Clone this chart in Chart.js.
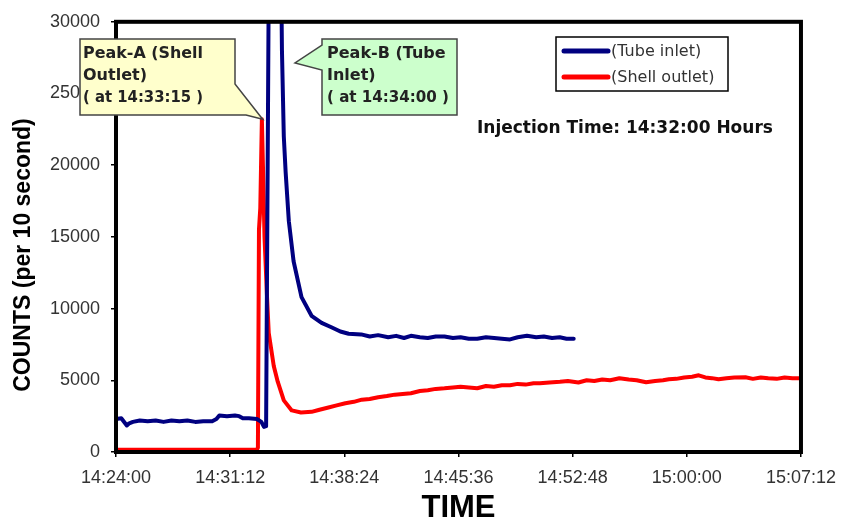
<!DOCTYPE html>
<html lang="en">
<head>
<meta charset="UTF-8">
<title>Tracer counts</title>
<script src="https://cdn.jsdelivr.net/npm/chart.js@4.4.0/dist/chart.umd.min.js"></script>
<style>
  html, body { margin: 0; padding: 0; background: #fff; }
  #wrap { width: 846px; height: 519px; }
</style>
</head>
<body>
<div id="wrap"><canvas id="tracerChart"></canvas></div>
<script>
// time axis is in seconds after 14:24:00
const xTickLabels = ['14:24:00', '14:31:12', '14:38:24', '14:45:36', '14:52:48', '15:00:00', '15:07:12'];
const yTickValues = [0, 5000, 10000, 15000, 20000, 25000, 30000];

// Tube inlet (blue)
const tubeTimes = [0, 20, 41, 50, 64, 90, 120, 150, 180, 210, 240, 270, 300, 330, 364, 380, 391, 420, 450, 466,
  480, 503, 533, 550, 560, 568, 582, 590, 600, 610, 620, 628, 635, 642, 654, 672, 702, 740, 778, 815,
  849, 880, 928, 960, 992, 1030, 1060, 1090, 1116, 1150, 1180, 1210, 1243, 1275, 1304, 1335, 1367, 1400, 1431, 1460,
  1491, 1520, 1555, 1590, 1619, 1650, 1679, 1705, 1732];
const tubeCounts = [2300, 2350, 1850, 2000, 2100, 2200, 2150, 2200, 2100, 2200, 2150, 2200, 2100, 2150, 2150, 2300, 2550, 2500, 2550, 2500,
  2350, 2350, 2300, 2100, 1750, 1800, 45000, 60000, 65000, 58000, 42000, 28000, 22000, 19500, 16100, 13300, 10800, 9500, 9000, 8700,
  8400, 8250, 8200, 8050, 8150, 8000, 8100, 7950, 8100, 8000, 7950, 8050, 8050, 7950, 8000, 7900, 7900, 8000, 7950, 7900,
  7850, 8000, 8100, 8000, 8050, 7950, 8000, 7900, 7900];

// Shell outlet (red)
const shellTimes = [0, 533, 537, 541, 546, 552, 556, 562, 571, 578, 597, 612, 635, 665, 700, 740, 770, 804, 835, 868,
  900, 930, 960, 992, 1025, 1055, 1085, 1116, 1150, 1180, 1210, 1243, 1275, 1304, 1335, 1367, 1400, 1430, 1460, 1491,
  1520, 1550, 1580, 1604, 1640, 1680, 1710, 1750, 1781, 1810, 1840, 1870, 1905, 1940, 1970, 2006, 2040, 2070, 2092, 2120,
  2150, 2180, 2205, 2230, 2255, 2280, 2310, 2340, 2382, 2410, 2440, 2468, 2500, 2530, 2560, 2592];
const shellCounts = [150, 150, 300, 15500, 17000, 23200, 20000, 15000, 11000, 8300, 6000, 4900, 3600, 2900, 2750, 2800, 2950, 3100, 3250, 3400,
  3500, 3650, 3700, 3820, 3900, 4000, 4050, 4100, 4250, 4300, 4400, 4440, 4500, 4550, 4500, 4450, 4600, 4550, 4650, 4650,
  4750, 4700, 4800, 4790, 4850, 4900, 4950, 4850, 5000, 4950, 5050, 5000, 5140, 5050, 5000, 4860, 4950, 5000, 5070, 5100,
  5200, 5250, 5350, 5200, 5150, 5070, 5150, 5200, 5210, 5100, 5200, 5140, 5100, 5200, 5150, 5140];

const peakA = { time: 555, counts: 23200, lines: ['Peak-A (Shell', 'Outlet)', '( at 14:33:15 )'] };
const peakB = { lines: ['Peak-B (Tube', 'Inlet)', '( at 14:34:00 )'] };

const toPoints = (xs, ys) => xs.map((x, i) => ({ x: x, y: ys[i] }));

// frame, titles, legend and the two callouts
const decor = {
  id: 'decor',
  afterDraw(chart) {
    const { ctx, chartArea: a, scales } = chart;
    ctx.save();

    ctx.strokeStyle = '#000';
    ctx.lineWidth = 4;
    ctx.strokeRect(a.left, a.top, a.right - a.left, a.bottom - a.top);

    // axis titles
    ctx.fillStyle = '#000';
    ctx.font = 'bold 31px "Liberation Sans", Arial, sans-serif';
    ctx.textAlign = 'center';
    ctx.textBaseline = 'middle';
    ctx.fillText('TIME', (a.left + a.right) / 2, 508);

    ctx.save();
    ctx.translate(24, 255);
    ctx.rotate(-Math.PI / 2);
    ctx.font = 'bold 23px "Liberation Sans", Arial, sans-serif';
    ctx.fillText('COUNTS (per 10 second)', 0, 0);
    ctx.restore();

    // legend
    ctx.lineWidth = 1.5;
    ctx.strokeStyle = '#000';
    ctx.fillStyle = '#fff';
    ctx.fillRect(556, 37, 172, 54);
    ctx.strokeRect(556, 37, 172, 54);
    ctx.lineCap = 'round';
    ctx.lineWidth = 5;
    ctx.strokeStyle = '#000080';
    ctx.beginPath(); ctx.moveTo(564, 51); ctx.lineTo(608, 51); ctx.stroke();
    ctx.strokeStyle = '#ff0000';
    ctx.beginPath(); ctx.moveTo(564, 77); ctx.lineTo(608, 77); ctx.stroke();
    ctx.lineCap = 'butt';
    ctx.fillStyle = '#333';
    ctx.textAlign = 'left';
    ctx.font = '16px "DejaVu Sans", sans-serif';
    ctx.fillText('(Tube inlet)', 611, 52);
    ctx.fillText('(Shell outlet)', 611, 78);

    ctx.fillStyle = '#111';
    ctx.font = 'bold 17px "DejaVu Sans", sans-serif';
    ctx.fillText('Injection Time: 14:32:00 Hours', 477, 129, 310);

    // Peak-A callout, pointer tip on the red peak
    const tipAx = scales.x.getPixelForValue(peakA.time);
    const tipAy = scales.y.getPixelForValue(peakA.counts);
    ctx.beginPath();
    ctx.moveTo(80, 39); ctx.lineTo(235, 39); ctx.lineTo(235, 84);
    ctx.lineTo(tipAx, tipAy); ctx.lineTo(246, 115); ctx.lineTo(80, 115);
    ctx.closePath();
    ctx.fillStyle = '#ffffcc';
    ctx.fill();
    ctx.lineWidth = 1.5;
    ctx.strokeStyle = '#444';
    ctx.stroke();

    // Peak-B callout
    ctx.beginPath();
    ctx.moveTo(322, 39); ctx.lineTo(457, 39); ctx.lineTo(457, 115); ctx.lineTo(322, 115);
    ctx.lineTo(322, 70); ctx.lineTo(295, 63); ctx.lineTo(322, 45);
    ctx.closePath();
    ctx.fillStyle = '#ccffcc';
    ctx.fill();
    ctx.stroke();

    ctx.fillStyle = '#222';
    ctx.font = 'bold 16px "DejaVu Sans", sans-serif';
    ctx.textBaseline = 'middle';
    peakA.lines.forEach((t, i) => ctx.fillText(t, 83, 54 + i * 22, 120));
    peakB.lines.forEach((t, i) => ctx.fillText(t, 327, 54 + i * 22, 122));

    ctx.restore();
  }
};

new Chart(document.getElementById('tracerChart'), {
  type: 'line',
  data: {
    datasets: [
      { label: '(Tube inlet)', data: toPoints(tubeTimes, tubeCounts), borderColor: '#000080', borderWidth: 4 },
      { label: '(Shell outlet)', data: toPoints(shellTimes, shellCounts), borderColor: '#ff0000', borderWidth: 4 }
    ]
  },
  options: {
    responsive: true,
    maintainAspectRatio: false,
    animation: false,
    events: [],
    layout: { padding: { top: 20, right: 40, left: 0, bottom: 0 } },
    elements: {
      point: { radius: 0 },
      line: { tension: 0, borderJoinStyle: 'round', borderCapStyle: 'round' }
    },
    plugins: { legend: { display: false }, tooltip: { enabled: false } },
    scales: {
      x: {
        type: 'linear',
        min: 0,
        max: 2592,
        afterFit: s => { s.height = 67; },
        afterBuildTicks: s => { s.ticks = xTickLabels.map((_, i) => ({ value: i * 432 })); },
        ticks: {
          callback: (v, i) => xTickLabels[i],
          color: '#333',
          padding: 10,
          maxRotation: 0,
          font: { family: '"Liberation Sans", Arial, sans-serif', size: 18 }
        },
        grid: { drawOnChartArea: false, drawTicks: true, tickLength: 5, color: '#000', lineWidth: 1.5 },
        border: { display: false }
      },
      y: {
        min: 0,
        max: 30000,
        afterFit: s => { s.width = 116; },
        afterBuildTicks: s => { s.ticks = yTickValues.map(v => ({ value: v })); },
        ticks: {
          callback: v => String(v),
          color: '#333',
          padding: 11,
          font: { family: '"Liberation Sans", Arial, sans-serif', size: 18 }
        },
        grid: { drawOnChartArea: false, drawTicks: true, tickLength: 5, color: '#000', lineWidth: 1.5 },
        border: { display: false }
      }
    }
  },
  plugins: [decor]
});
</script>
</body>
</html>
